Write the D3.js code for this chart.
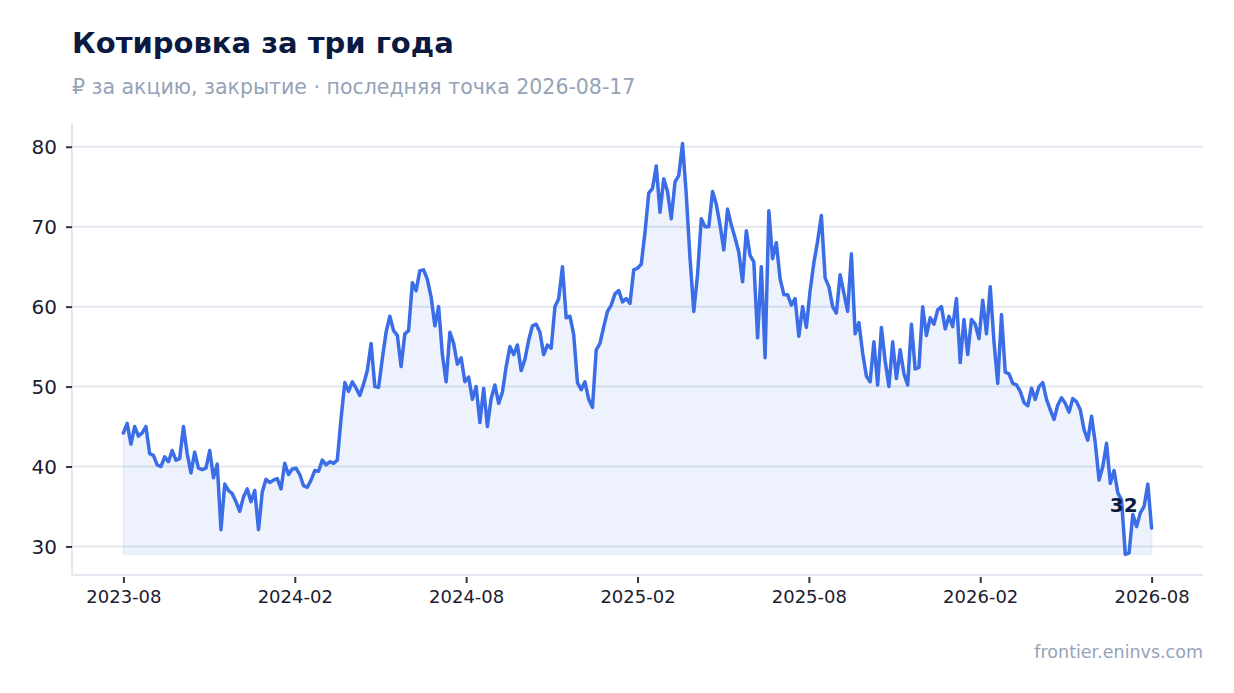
<!DOCTYPE html>
<html lang="ru">
<head>
<meta charset="utf-8">
<title>Котировка за три года</title>
<script src="https://cdn.jsdelivr.net/npm/d3@7"></script>
<style>
  html, body { margin: 0; padding: 0; background: #ffffff; }
  body { font-family: "DejaVu Sans", sans-serif; }
  #chart { width: 1234px; height: 693px; }
</style>
</head>
<body>
<div id="chart"></div>
<script>
// Chart data, one close every 4 days
const startDate = '2023-08-17';
const stepDays = 4;
const closes = [
  44.2, 45.4, 42.8, 45.0, 43.8, 44.2, 45.0, 41.6, 41.4, 40.2,
  40.0, 41.2, 40.6, 42.0, 40.8, 41.0, 45.0, 41.6, 39.2, 41.8,
  39.8, 39.6, 39.8, 42.0, 38.6, 40.3, 32.1, 37.8, 37.0, 36.6,
  35.6, 34.4, 36.2, 37.2, 35.6, 37.0, 32.1, 36.8, 38.4, 38.0,
  38.3, 38.5, 37.2, 40.4, 39.0, 39.7, 39.8, 39.0, 37.6, 37.4,
  38.3, 39.5, 39.4, 40.8, 40.2, 40.6, 40.4, 40.8, 46.0, 50.5,
  49.4, 50.6, 49.8, 48.9, 50.3, 52.0, 55.4, 50.0, 49.9, 53.5,
  56.8, 58.8, 57.0, 56.4, 52.5, 56.6, 57.0, 63.0, 62.0, 64.5,
  64.6, 63.4, 61.2, 57.6, 60.0, 54.0, 50.6, 56.8, 55.4, 52.8,
  53.6, 50.6, 51.2, 48.4, 50.0, 45.5, 49.8, 45.0, 48.5, 50.2,
  47.9, 49.3, 52.5, 55.0, 54.0, 55.2, 52.0, 53.4, 55.8, 57.6,
  57.8, 56.8, 54.0, 55.2, 54.8, 60.0, 61.0, 65.0, 58.6, 58.8,
  56.5, 50.5, 49.6, 50.6, 48.4, 47.4, 54.6, 55.4, 57.5, 59.4,
  60.2, 61.6, 62.0, 60.6, 61.0, 60.4, 64.6, 64.8, 65.3, 69.3,
  74.2, 74.8, 77.6, 71.8, 76.0, 74.4, 71.0, 75.6, 76.4, 80.4,
  74.0, 66.0, 59.4, 64.0, 71.0, 70.0, 70.0, 74.4, 72.8, 70.2,
  67.1, 72.2, 70.2, 68.6, 66.8, 63.1, 69.5, 66.4, 65.6, 56.1,
  65.0, 53.6, 72.0, 66.0, 68.0, 63.5, 61.5, 61.5, 60.2, 61.0,
  56.3, 60.0, 57.4, 62.0, 65.5, 68.2, 71.4, 63.6, 62.5, 60.0,
  59.2, 64.0, 61.7, 59.4, 66.6, 56.6, 58.0, 54.2, 51.3, 50.6,
  55.6, 50.2, 57.4, 53.2, 50.0, 55.6, 51.0, 54.6, 51.6, 50.2,
  57.8, 52.2, 52.4, 60.0, 56.4, 58.6, 57.8, 59.6, 60.0, 57.2,
  58.8, 57.5, 61.0, 53.0, 58.4, 54.0, 58.4, 57.8, 56.0, 60.8,
  56.6, 62.5, 55.6, 50.4, 59.0, 51.8, 51.6, 50.4, 50.2, 49.4,
  48.0, 47.6, 49.8, 48.4, 50.0, 50.5, 48.4, 47.1, 45.9, 47.7,
  48.6, 47.9, 46.8, 48.5, 48.1, 47.1, 44.6, 43.3, 46.3, 42.9,
  38.3, 40.0, 42.9, 37.9, 39.5, 36.7, 35.8, 29.0, 29.2, 34.0,
  32.5, 34.2, 35.0, 37.8, 32.3
];
const yTicks = [30, 40, 50, 60, 70, 80];
const xTickCount = 7;

const titleText = 'Котировка за три года';
const subtitleText = '₽ за акцию, закрытие · последняя точка 2026-08-17';
const sourceText = 'frontier.eninvs.com';

function drawChart() {
  const width = 1234;
  const height = 693;
  const margin = { top: 123, right: 31, bottom: 118, left: 72 };

  const parse = d3.utcParse('%Y-%m-%d');
  const t0 = parse(startDate);
  const data = closes.map((v, i) => ({ date: d3.utcDay.offset(t0, i * stepDays), value: v }));

  const svg = d3.select('#chart')
    .append('svg')
    .attr('width', width)
    .attr('height', height)
    .attr('viewBox', [0, 0, width, height]);

  // Scales, padded 5% on both sides like the original
  const xExt = d3.extent(data, d => d.date);
  const xPad = (xExt[1] - xExt[0]) * 0.05;
  const x = d3.scaleUtc()
    .domain([new Date(+xExt[0] - xPad), new Date(+xExt[1] + xPad)])
    .range([margin.left, width - margin.right]);

  const yMin = d3.min(data, d => d.value);
  const yMax = d3.max(data, d => d.value);
  const yPad = (yMax - yMin) * 0.05;
  const y = d3.scaleLinear()
    .domain([yMin - yPad, yMax + yPad])
    .range([height - margin.bottom, margin.top]);

  // evenly spaced date ticks across the data span
  const xTicks = d3.range(xTickCount).map(k =>
    new Date(+xExt[0] + (xExt[1] - xExt[0]) * k / (xTickCount - 1)));

  // Titles
  svg.append('text')
    .attr('x', 72)
    .attr('y', 53)
    .attr('fill', '#0b1a40')
    .attr('font-size', '29px')
    .attr('font-weight', 'bold')
    .text(titleText);

  svg.append('text')
    .attr('x', 72)
    .attr('y', 94)
    .attr('fill', '#94a3b8')
    .attr('font-size', '20.5px')
    .text(subtitleText);

  // Grid lines
  svg.append('g')
    .selectAll('line')
    .data(yTicks)
    .join('line')
    .attr('x1', margin.left)
    .attr('x2', width - margin.right)
    .attr('y1', d => y(d))
    .attr('y2', d => y(d))
    .attr('stroke', '#e3e7f0')
    .attr('stroke-width', 2);

  // Area under the line, down to the lowest close
  const area = d3.area()
    .x(d => x(d.date))
    .y0(y(yMin))
    .y1(d => y(d.value));

  svg.append('path')
    .datum(data)
    .attr('d', area)
    .attr('fill', '#3b6de6')
    .attr('fill-opacity', 0.09)
    .attr('stroke', '#3b6de6')
    .attr('stroke-opacity', 0.06)
    .attr('stroke-width', 2);

  const line = d3.line()
    .x(d => x(d.date))
    .y(d => y(d.value));

  svg.append('path')
    .datum(data)
    .attr('d', line)
    .attr('fill', 'none')
    .attr('stroke', '#3b6de6')
    .attr('stroke-width', 3.5)
    .attr('stroke-linejoin', 'round')
    .attr('stroke-linecap', 'round');

  // Axes
  const yAxis = svg.append('g')
    .attr('transform', `translate(${margin.left},0)`)
    .call(d3.axisLeft(y).tickValues(yTicks).tickSize(6).tickPadding(9));

  const xAxis = svg.append('g')
    .attr('transform', `translate(0,${height - margin.bottom})`)
    .call(d3.axisBottom(x).tickValues(xTicks).tickFormat(d3.utcFormat('%Y-%m')).tickSize(8).tickPadding(7));

  [yAxis, xAxis].forEach(ax => {
    ax.select('.domain').attr('stroke', '#e3e7f0').attr('stroke-width', 2);
    ax.selectAll('.tick line').attr('stroke', '#2e3440').attr('stroke-width', 2);
    ax.selectAll('.tick text')
      .attr('fill', '#1b2030')
      .attr('font-family', '"DejaVu Sans", sans-serif');
  });
  yAxis.select('.domain').attr('d', `M0,${margin.top}V${height - margin.bottom}`);
  xAxis.select('.domain').attr('d', `M${margin.left},0H${width - margin.right}`);
  xAxis.selectAll('.tick line').attr('y1', 2);
  yAxis.selectAll('.tick text').attr('font-size', '20px').attr('dy', '0.36em');
  xAxis.selectAll('.tick text').attr('font-size', '18px');

  // Last value label
  const last = data[data.length - 1];
  svg.append('text')
    .attr('x', x(last.date) - 14)
    .attr('y', y(last.value) - 16)
    .attr('text-anchor', 'end')
    .attr('fill', '#0b1a40')
    .attr('font-size', '20px')
    .attr('font-weight', 'bold')
    .text(Math.round(last.value));

  // Source
  svg.append('text')
    .attr('x', width - margin.right)
    .attr('y', 658)
    .attr('text-anchor', 'end')
    .attr('fill', '#94a3b8')
    .attr('font-size', '17.5px')
    .text(sourceText);
}

drawChart();
</script>
</body>
</html>
